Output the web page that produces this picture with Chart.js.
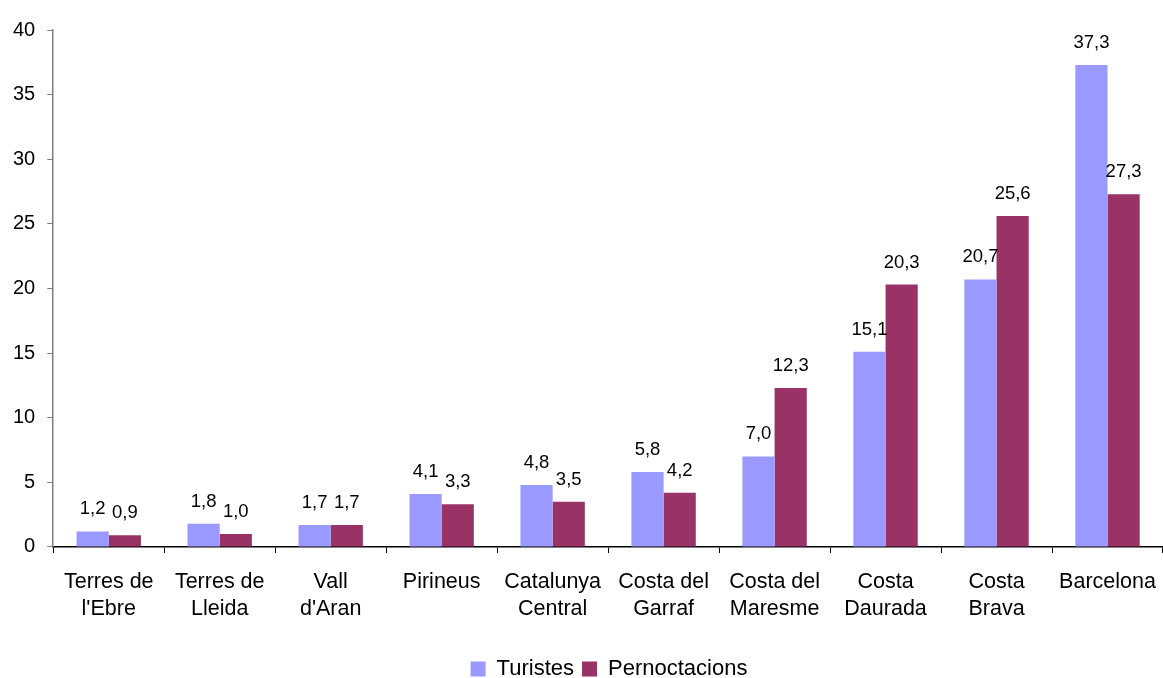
<!DOCTYPE html>
<html>
<head>
<meta charset="utf-8">
<script src="https://cdn.jsdelivr.net/npm/chart.js@4.4.1/dist/chart.umd.min.js"></script>
<style>
  html, body { margin: 0; padding: 0; background: #fff; }
  #wrap { width: 1163px; height: 678px; }
</style>
</head>
<body>
<div id="wrap"><canvas id="grafico" width="1163" height="678"></canvas></div>
<script>
// Datos del gráfico
var comarcas = [
  ['Terres de', "l'Ebre"], ['Terres de', 'Lleida'], ['Vall', "d'Aran"], 'Pirineus',
  ['Catalunya', 'Central'], ['Costa del', 'Garraf'], ['Costa del', 'Maresme'],
  ['Costa', 'Daurada'], ['Costa', 'Brava'], 'Barcelona'
];
var turistes = [1.2, 1.8, 1.7, 4.1, 4.8, 5.8, 7.0, 15.1, 20.7, 37.3];
var pernoctacions = [0.9, 1.0, 1.7, 3.3, 3.5, 4.2, 12.3, 20.3, 25.6, 27.3];
var ticksY = [0, 5, 10, 15, 20, 25, 30, 35, 40];

var fuente = '"Liberation Sans", Arial, sans-serif';

// Etiquetas de valor encima de cada barra (con coma decimal)
var etiquetasValor = {
  id: 'etiquetasValor',
  afterLayout: function (chart) {
    // la leyenda del original está algo desplazada a la derecha
    if (chart.legend) chart.legend.left += 54;
  },
  afterDatasetsDraw: function (chart) {
    var ctx = chart.ctx;
    ctx.save();
    ctx.font = '18.5px ' + fuente;
    ctx.fillStyle = '#000';
    ctx.textAlign = 'center';
    ctx.textBaseline = 'alphabetic';
    chart.data.datasets.forEach(function (ds, i) {
      chart.getDatasetMeta(i).data.forEach(function (bar, j) {
        var txt = ds.data[j].toFixed(1).replace('.', ',');
        ctx.fillText(txt, bar.x, bar.y - 17);
      });
    });
    ctx.restore();
  }
};

var ctx = document.getElementById('grafico').getContext('2d');
var myChart = new Chart(ctx, {
  type: 'bar',
  data: {
    labels: comarcas,
    datasets: [{
      label: 'Turistes',
      data: turistes,
      backgroundColor: '#9999FF',
      barPercentage: 1,
      categoryPercentage: 0.58
    }, {
      label: 'Pernoctacions',
      data: pernoctacions,
      backgroundColor: '#993366',
      barPercentage: 1,
      categoryPercentage: 0.58
    }]
  },
  options: {
    responsive: false,
    animation: false,
    layout: { padding: { top: 30, left: 1, right: 0, bottom: -12 } },
    plugins: {
      tooltip: { enabled: false },
      legend: {
        position: 'bottom',
        labels: {
          font: { family: fuente, size: 22 },
          color: '#000',
          boxWidth: 15,
          boxHeight: 15,
          padding: 8
        }
      }
    },
    scales: {
      x: {
        grid: { drawOnChartArea: false, drawTicks: true, tickLength: 6, color: '#000' },
        border: { color: '#000', width: 1.5 },
        ticks: { font: { family: fuente, size: 21.5, lineHeight: 1.28 }, color: '#000', maxRotation: 0, padding: 15 },
        afterFit: function (scale) {
          scale.height += 12;
          scale.paddingRight = 0;
        }
      },
      y: {
        min: 0,
        max: 40,
        afterBuildTicks: function (axis) {
          axis.ticks = ticksY.map(function (v) { return { value: v }; });
        },
        grid: { drawOnChartArea: false, drawTicks: true, tickLength: 6, color: '#808080' },
        border: { color: '#808080', width: 1.5 },
        ticks: { font: { family: fuente, size: 20 }, color: '#000', padding: 12 }
      }
    }
  },
  plugins: [etiquetasValor]
});
</script>
</body>
</html>
